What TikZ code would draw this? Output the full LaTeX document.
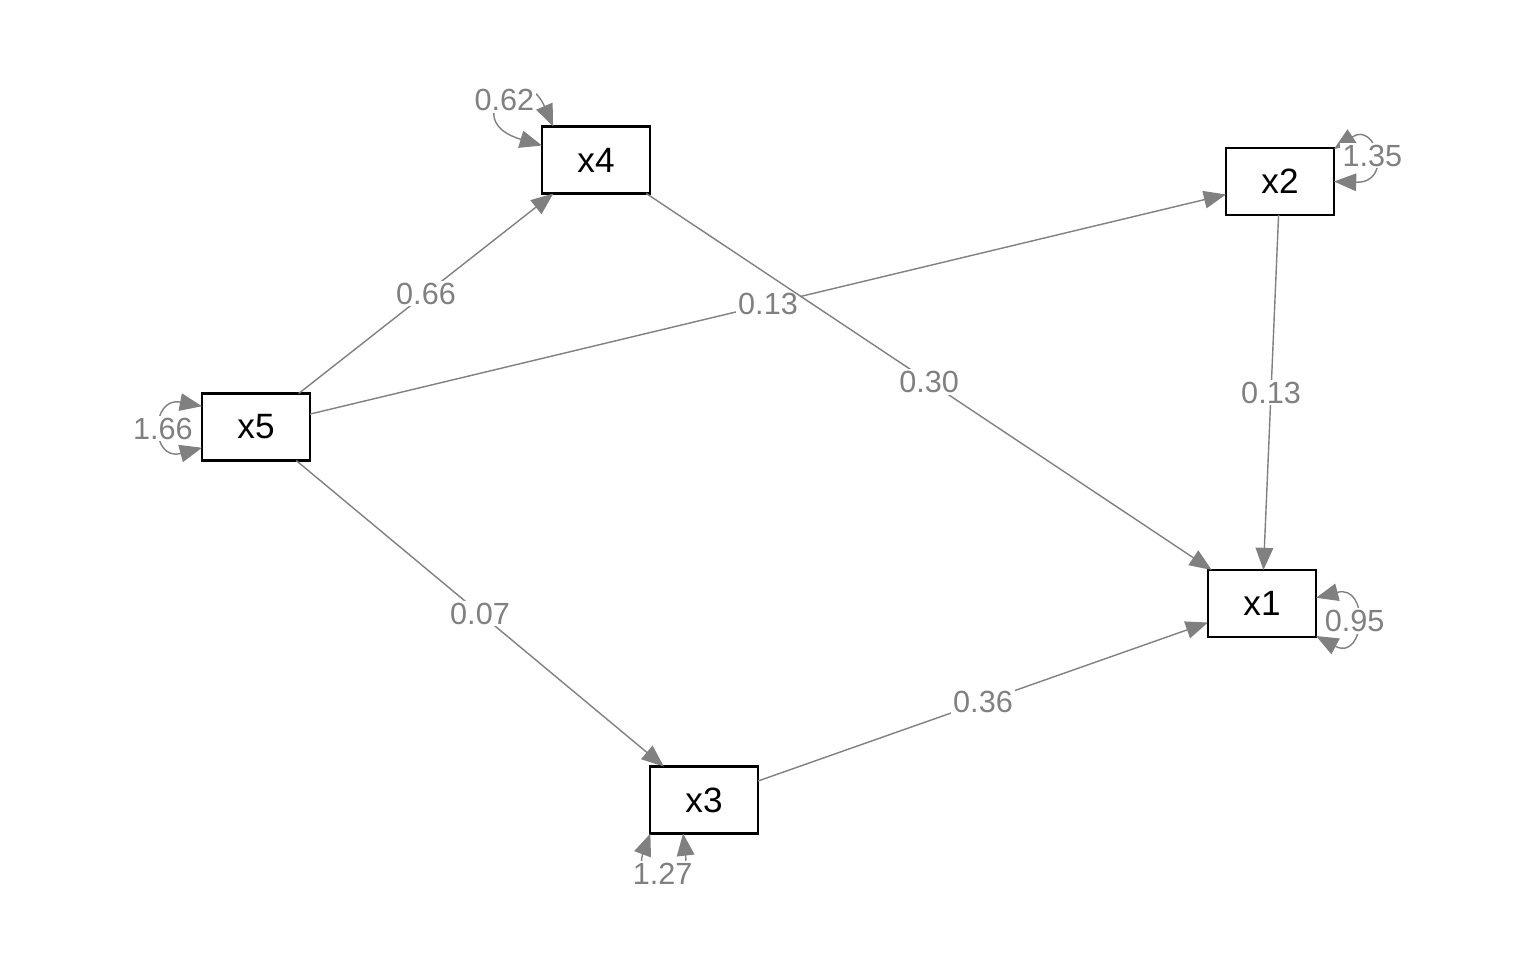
\documentclass[tikz,border=0pt]{standalone}
\usepackage{fontspec}
\setmainfont{Liberation Sans}
\usetikzlibrary{arrows.meta}
\begin{document}
\begin{tikzpicture}[x=0.01cm,y=-0.01cm,
    var/.style={draw,line width=0.6pt,minimum width=1.08cm,minimum height=0.67cm,
      inner sep=0pt,outer sep=0pt,font=\fontsize{10}{12}\selectfont},
    reg/.style={-{Triangle[length=6.3pt,width=5pt]},gray,line width=0.4pt},
    resid/.style={{Triangle[length=6.3pt,width=5pt]}-{Triangle[length=6.3pt,width=5pt]},
      gray,line width=0.4pt},
    est/.style={fill=white,inner sep=0.6pt,text=gray,font=\fontsize{8.7}{10}\selectfont}]

        \useasboundingbox (0,0) rectangle (1536,960);

        % Observed variables
        \node[var] (x4) at (596,160) {x4};
        \node[var] (x2) at (1280,181.5) {x2};
        \node[var] (x5) at (256,427) {x5};
        \node[var] (x1) at (1262,603.5) {x1};
        \node[var] (x3) at (704,800) {x3};

        % Regressions
        \draw[reg] (x5) -- node[est] (b54) {0.66} (x4);
        \draw[reg] (x5) -- node[est] (b52) {0.13} (x2);
        \draw[reg] (x4) -- node[est] (b41) {0.30} (x1);
        \draw[reg] (x2) -- node[est] (b21) {0.13} (x1);
        \draw[reg] (x5) -- node[est] (b53) {0.07} (x3);
        \draw[reg] (x3) -- node[est] (b31) {0.36} (x1);

        % Residual variances
        \draw[resid] (x4.165) .. controls +(-85,-25) and +(-30,-70) .. node[est] (v4) {0.62} (x4.142);
        \draw[resid] (x5.159) .. controls +(-52,-10) and +(-52,14) .. node[est] (v5) {1.66} (x5.201);
        \draw[resid] (x2.31) .. controls +(42,-28) and +(60,2) .. node[est] (v2) {1.35} (x2.0);
        \draw[resid] (x1.6) .. controls +(54,-14) and +(49,26) .. node[est] (v1) {0.95} (x1.-31);
        \draw[resid] (x3.-148) .. controls +(-18,48) and +(7,60) .. node[est] (v3) {1.27} (x3.238);

    \end{tikzpicture}
\end{document}
